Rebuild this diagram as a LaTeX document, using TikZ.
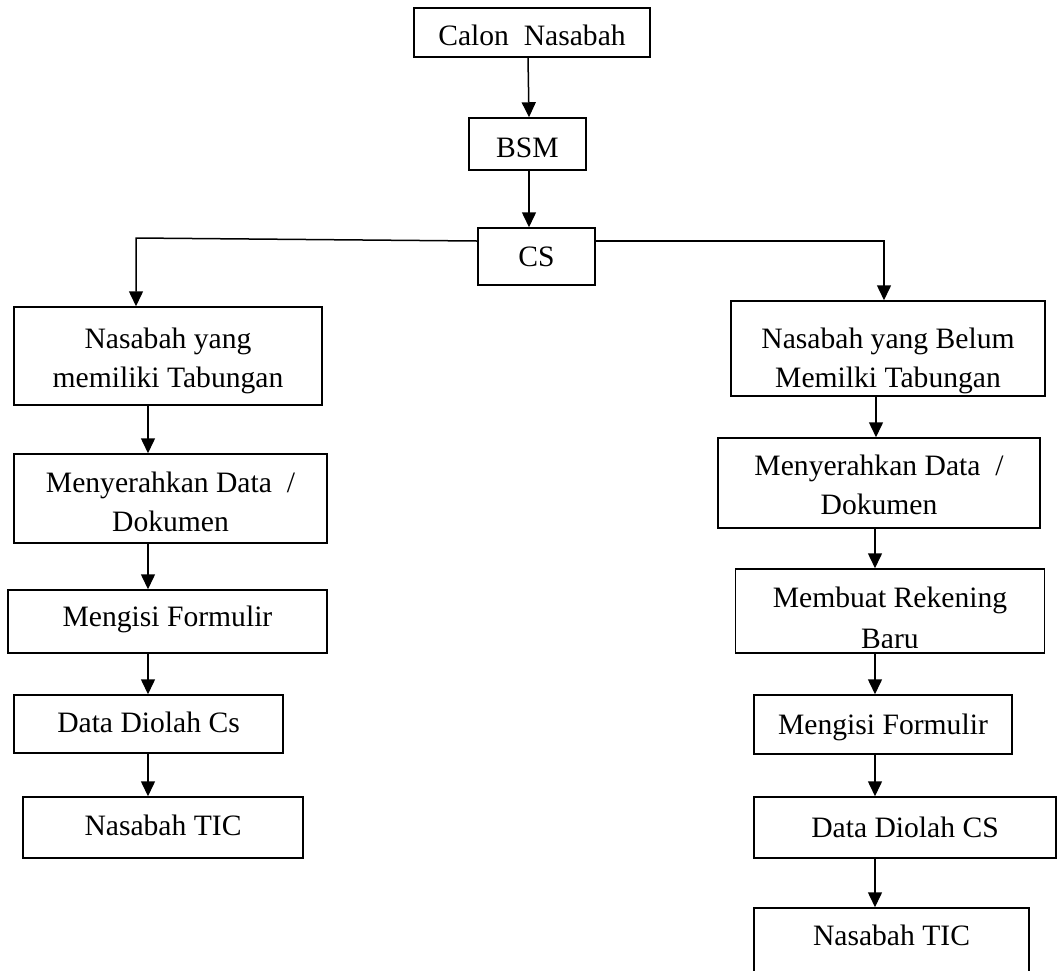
\documentclass[tikz,border=0pt]{standalone}
\usepackage{fontspec}
\setmainfont{Liberation Serif}
\usetikzlibrary{arrows.meta}
\newcommand{\twolines}[2]{\begin{tabular}[t]{@{}c@{}}#1\\#2\end{tabular}}
\begin{document}
\begin{tikzpicture}[x=1pt,y=-1pt,
  txt/.style={font=\fontsize{29.6}{39}\selectfont},
  box/.style={txt, draw, line width=1.5pt, rectangle, inner sep=0pt, text height=20pt},
  arr/.style={line width=1.5pt, -{Triangle[width=14pt,length=15pt]}},
  ln/.style={line width=1.5pt}]
\fill[white] (0,0) rectangle (1057,970);
\useasboundingbox (0,0) rectangle (1057,970);
\clip (0,0) rectangle (1057,970);

% top chain
\node[box, minimum width=236pt, minimum height=49pt, text height=25pt, text depth=0pt] (calon) at (532,32.5) {Calon\ \ Nasabah};
\node[box, minimum width=117pt, minimum height=52pt, text height=26pt, text depth=0pt] (bsm) at (527.5,144) {BSM};
\node[box, minimum width=117pt, minimum height=57pt, text depth=1pt] (cs) at (536.5,256.5) {CS};

% left column
\node[box, minimum width=308pt, minimum height=98pt, text depth=36pt] (n1) at (168,356) {\twolines{Nasabah yang}{memiliki Tabungan}};
\node[box, minimum width=313pt, minimum height=89pt, text depth=33pt] (m1) at (170.5,498.5) {\twolines{Menyerahkan Data\ \ /}{Dokumen}};
\node[box, minimum width=319pt, minimum height=63pt, text depth=11pt] (f1) at (167.5,621.5) {Mengisi Formulir};
\node[box, minimum width=269pt, minimum height=58pt, text depth=4pt] (d1) at (148.5,724) {Data Diolah Cs};
\node[box, minimum width=280pt, minimum height=61pt, text depth=5pt] (t1) at (163,827.5) {Nasabah TIC};

% right column
\node[box, minimum width=314pt, minimum height=95pt, text depth=21pt] (n2) at (888,348.5) {\twolines{Nasabah yang Belum}{Memilki Tabungan}};
\node[box, minimum width=322pt, minimum height=90pt, text depth=36pt] (m2) at (879,483) {\twolines{Menyerahkan Data\ \ /}{Dokumen}};
\begin{scope}
  \clip (736,570) rectangle (1044,647);
  \node[txt, anchor=base, inner sep=0pt] (r2t) at (890,607) {\begin{tabular}[t]{@{}c@{}}Membuat Rekening\\[2pt]Baru\end{tabular}};
\end{scope}
\node[box, minimum width=309pt, minimum height=84pt] (r2) at (890,611) {};
\node[box, minimum width=258pt, minimum height=59pt, text depth=1pt] (f2) at (883,724.5) {Mengisi Formulir};
\node[box, minimum width=302pt, minimum height=61pt, text depth=1pt] (d2) at (905,827.5) {Data Diolah CS};
\node[box, minimum width=275pt, minimum height=82pt, text depth=28pt] (t2) at (891.5,949) {Nasabah TIC};

% connectors
\draw[arr] (calon.south -| 528,0) -- (bsm.north -| 529,0);
\draw[arr] (bsm.south -| 529,0) -- (cs.north -| 529,0);
\coordinate (L) at (136,238);
\coordinate (R) at (884,241);
\draw[arr] (cs.west |- 0,241) -- (L) -- (n1.north -| L);
\draw[arr] (cs.east |- 0,241) -- (R) -- (n2.north -| R);

\draw[arr] (n1.south -| 148,0) -- (m1.north -| 148,0);
\draw[arr] (m1.south -| 148,0) -- (f1.north -| 148,0);
\draw[arr] (f1.south -| 148,0) -- (d1.north -| 148,0);
\draw[arr] (d1.south -| 148,0) -- (t1.north -| 148,0);

\draw[arr] (n2.south -| 876,0) -- (m2.north -| 876,0);
\draw[arr] (m2.south -| 875,0) -- (r2.north -| 875,0);
\draw[arr] (r2.south -| 875,0) -- (f2.north -| 875,0);
\draw[arr] (f2.south -| 875,0) -- (d2.north -| 875,0);
\draw[arr] (d2.south -| 875,0) -- (t2.north -| 875,0);
\end{tikzpicture}
\end{document}
